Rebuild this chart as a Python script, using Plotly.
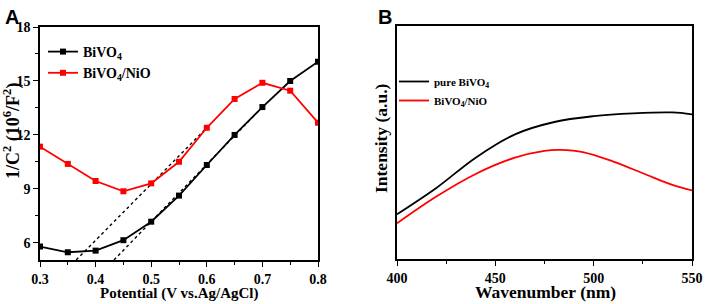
import plotly.graph_objects as go

# Panel A data (Mott-Schottky)
potential = [0.30, 0.35, 0.40, 0.45, 0.50, 0.55, 0.60, 0.65, 0.70, 0.75, 0.80]
bivo4 = [5.80, 5.48, 5.57, 6.15, 7.18, 8.63, 10.33, 12.00, 13.55, 15.00, 16.07]
bivo4_nio = [11.35, 10.39, 9.44, 8.87, 9.31, 10.51, 12.40, 14.00, 14.90, 14.46, 12.68]
# tangent (linear fit) lines
fit1_x = [0.365, 0.60]
fit1_y = [5.05, 12.40]
fit2_x = [0.433, 0.70]
fit2_y = [5.05, 13.55]

# Panel B data (PL spectra)
wl = [400, 420, 440, 460, 480, 500, 520, 540, 550]
pure_pl = [19.2, 30.5, 43.5, 53.5, 58.8, 61.3, 62.5, 62.9, 62.1]
wl_r = [400, 420, 440, 460, 475, 483, 495, 510, 525, 540, 550]
nio_pl = [15.3, 26.8, 36.5, 43.5, 46.4, 46.8, 45.8, 41.8, 36.8, 31.8, 29.4]

W, H = 706, 304
SERIF = "Liberation Serif"
SANS = "Liberation Sans"

fig = go.Figure()

fig.add_trace(go.Scatter(x=fit1_x, y=fit1_y, mode="lines", line=dict(color="black", width=1.4, dash="dot"),
                         showlegend=False, xaxis="x", yaxis="y"))
fig.add_trace(go.Scatter(x=fit2_x, y=fit2_y, mode="lines", line=dict(color="black", width=1.4, dash="dot"),
                         showlegend=False, xaxis="x", yaxis="y"))
fig.add_trace(go.Scatter(x=potential, y=bivo4, mode="lines+markers", name="<b>BiVO<sub>4</sub></b>",
                         line=dict(color="black", width=1.8), marker=dict(symbol="square", size=6, color="black"),
                         xaxis="x", yaxis="y", legend="legend"))
fig.add_trace(go.Scatter(x=potential, y=bivo4_nio, mode="lines+markers", name="<b>BiVO<sub>4</sub>/NiO</b>",
                         line=dict(color="#ff0000", width=1.8), marker=dict(symbol="square", size=6, color="#ff0000"),
                         xaxis="x", yaxis="y", legend="legend"))

fig.add_trace(go.Scatter(x=wl, y=pure_pl, mode="lines", name="<b>pure BiVO<sub>4</sub></b>",
                         line=dict(color="black", width=1.8, shape="spline", smoothing=1.0),
                         xaxis="x2", yaxis="y2", legend="legend2"))
fig.add_trace(go.Scatter(x=wl_r, y=nio_pl, mode="lines", name="<b>BiVO<sub>4</sub>/NiO</b>",
                         line=dict(color="#ff0000", width=1.8, shape="spline", smoothing=1.0),
                         xaxis="x2", yaxis="y2", legend="legend2"))

axis_common = dict(showline=True, linecolor="black", linewidth=1.5, mirror=True, showgrid=False, zeroline=False,
                   ticks="outside", ticklen=5, tickwidth=1.3, tickcolor="black", automargin=False,
                   tickfont=dict(family=SERIF, size=14, color="black"))

def title_ann(text, x, y, size, angle=0):
    return dict(text=text, x=x / W, y=1 - y / H, xref="paper", yref="paper", xanchor="center", yanchor="middle",
                textangle=angle, showarrow=False, font=dict(family=SERIF, size=size, color="black"))

fig.update_layout(
    width=W, height=H, margin=dict(l=0, r=0, t=0, b=0, autoexpand=False),
    paper_bgcolor="white", plot_bgcolor="white",
    xaxis=dict(axis_common, domain=[40/W, 318/W], range=[0.3, 0.8], tickvals=[0.3, 0.4, 0.5, 0.6, 0.7, 0.8],
               ticktext=["<b>0.3</b>", "<b>0.4</b>", "<b>0.5</b>", "<b>0.6</b>", "<b>0.7</b>", "<b>0.8</b>"],
               minor=dict(dtick=0.05, tick0=0.3, ticks="outside", ticklen=3, tickcolor="black"),
               anchor="y"),
    yaxis=dict(axis_common, domain=[1-260/H, 1-27/H], range=[5.05, 18], tickvals=[6, 9, 12, 15, 18],
               ticktext=["<b>6</b>", "<b>9</b>", "<b>12</b>", "<b>15</b>", "<b>18</b>"],
               minor=dict(dtick=1.5, tick0=6, ticks="outside", ticklen=3, tickcolor="black"),
               anchor="x"),
    xaxis2=dict(axis_common, domain=[397/W, 692/W], range=[400, 550], tickvals=[400, 450, 500, 550],
                ticktext=["<b>400</b>", "<b>450</b>", "<b>500</b>", "<b>550</b>"],
                minor=dict(dtick=25, tick0=400, ticks="outside", ticklen=3, tickcolor="black"),
                anchor="y2"),
    yaxis2=dict(axis_common, domain=[1-259/H, 1-26/H], range=[0, 100], showticklabels=False, ticks="",
                anchor="x2"),
    legend=dict(x=43/W, y=1-36/H, xanchor="left", yanchor="top", bgcolor="rgba(0,0,0,0)",
                font=dict(family=SERIF, size=14, color="black"), tracegroupgap=0, itemwidth=30),
    legend2=dict(x=394/W, y=1-67/H, xanchor="left", yanchor="top", bgcolor="rgba(0,0,0,0)",
                 font=dict(family=SERIF, size=11, color="black"), tracegroupgap=0, itemwidth=30),
    annotations=[
        dict(text="<b>A</b>", x=3/W, y=1-4/H, xref="paper", yref="paper", xanchor="left", yanchor="top",
             showarrow=False, font=dict(family=SANS, size=20, color="black")),
        dict(text="<b>B</b>", x=376/W, y=1-4/H, xref="paper", yref="paper", xanchor="left", yanchor="top",
             showarrow=False, font=dict(family=SANS, size=20, color="black")),
        title_ann("<b>Potential (V vs.Ag/AgCl)</b>", 179, 293, 15),
        title_ann("<b>Wavenumber (nm)</b>", 545, 292, 17.5),
        title_ann("<b>1/C<sup>2</sup> (10<sup>6</sup>/F<sup>2</sup>)</b>", 12, 131, 18, -90),
        title_ann("<b>Intensity (a.u.)</b>", 381, 138, 17.5, -90),
    ],
)

fig.write_html("out.html", config={"displayModeBar": False},
               post_script="document.body.style.margin='0px';document.body.style.padding='0px';")
